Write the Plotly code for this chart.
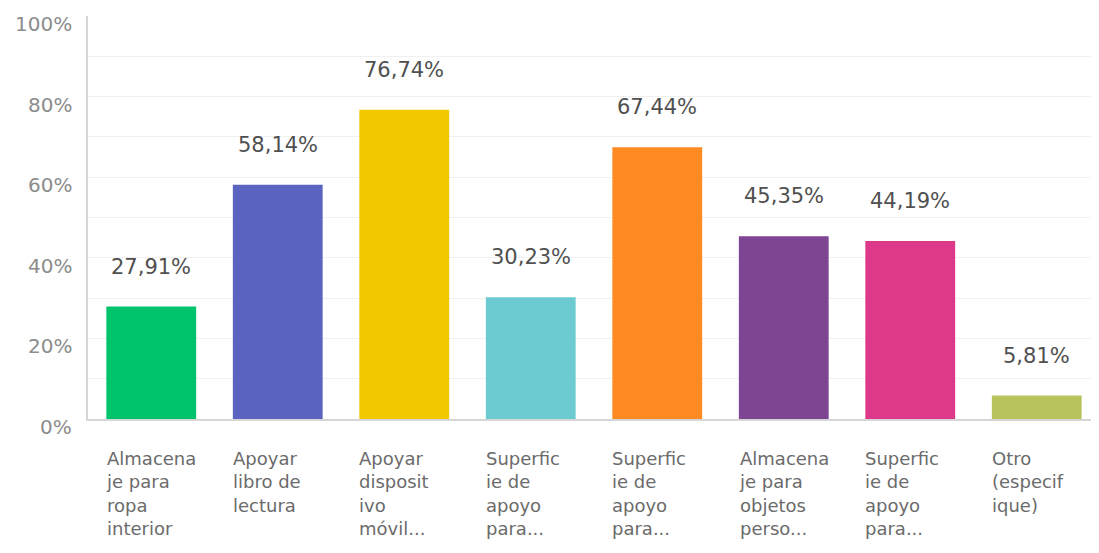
import plotly.graph_objects as go

categories = ["Almacena<br>je para<br>ropa<br>interior",
              "Apoyar<br>libro de<br>lectura",
              "Apoyar<br>disposit<br>ivo<br>móvil...",
              "Superfic<br>ie de<br>apoyo<br>para...",
              "Superfic<br>ie de<br>apoyo<br>para...",
              "Almacena<br>je para<br>objetos<br>perso...",
              "Superfic<br>ie de<br>apoyo<br>para...",
              "Otro<br>(especif<br>ique)"]
values = [27.91, 58.14, 76.74, 30.23, 67.44, 45.35, 44.19, 5.81]
value_labels = ["27,91%", "58,14%", "76,74%", "30,23%", "67,44%", "45,35%", "44,19%", "5,81%"]
colors = ["#00c46c", "#5b63c0", "#f2c900", "#6bcbd0", "#ff8a22", "#7e4592", "#dd388a", "#b9c35c"]
ytick_vals = [0, 20, 40, 60, 80, 100]
ytick_text = ["0%", "20%", "40%", "60%", "80%", "100%"]

FONT = "DejaVu Sans"
x_idx = list(range(len(values)))

fig = go.Figure()
fig.add_trace(go.Bar(x=x_idx, y=values, marker=dict(color=colors, line=dict(width=0)),
                     width=0.71, hoverinfo="skip"))

annotations = []
for i, (v, t) in enumerate(zip(values, value_labels)):
    annotations.append(dict(x=i, y=v, text=t, showarrow=False, yshift=40,
                            xanchor="center", yanchor="middle",
                            font=dict(family=FONT, size=21, color="#505050")))
for i, c in enumerate(categories):
    annotations.append(dict(x=i, xref="x", y=0, yref="paper", text=c, showarrow=False,
                            xanchor="left", yanchor="top", align="left",
                            xshift=-47, yshift=-27,
                            font=dict(family=FONT, size=18, color="#6b6b6b")))
for v, t in zip(ytick_vals, ytick_text):
    annotations.append(dict(x=0, xref="paper", y=v, yref="y", text=t, showarrow=False,
                            xanchor="right", yanchor="middle", xshift=-14, yshift=-8,
                            font=dict(family=FONT, size=20, color="#8c8c8c")))

fig.update_layout(
    width=1099, height=553,
    margin=dict(l=80, r=7, t=8, b=142),
    paper_bgcolor="white", plot_bgcolor="white",
    showlegend=False,
    annotations=annotations,
    xaxis=dict(range=[-0.5, len(values) - 0.5], showticklabels=False, showgrid=False,
               zeroline=False, showline=True, linecolor="#d6d6d6", linewidth=1.5, ticks=""),
    yaxis=dict(range=[0, 100], tickvals=[0, 10, 20, 30, 40, 50, 60, 70, 80, 90, 100],
               showticklabels=False, showgrid=True, gridcolor="#f0f0f0", gridwidth=1,
               zeroline=False, showline=True, linecolor="#d6d6d6", linewidth=1.5, ticks=""),
)

fig.write_html("out.html")
